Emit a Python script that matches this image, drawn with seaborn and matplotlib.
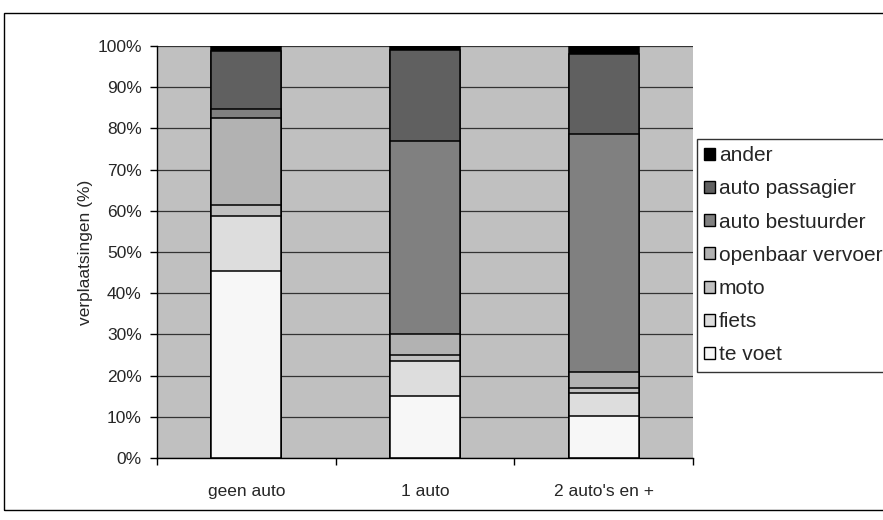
import matplotlib
matplotlib.use("Agg")
import matplotlib.pyplot as plt
import seaborn as sns
import pandas as pd
import numpy as np
from matplotlib.patches import Rectangle, Patch
from matplotlib.ticker import FixedLocator, PercentFormatter

categories = ["geen auto", "1 auto", "2 auto's en +"]
modes = ["te voet", "fiets", "moto", "openbaar vervoer", "auto bestuurder", "auto passagier", "ander"]
te_voet = [45.5, 15.0, 10.3]
fiets = [13.3, 8.5, 5.4]
moto = [2.5, 1.5, 1.4]
openbaar_vervoer = [21.3, 5.0, 3.7]
auto_bestuurder = [2.1, 47.0, 57.8]
auto_passagier = [14.1, 22.0, 19.4]
ander = [1.2, 1.0, 2.0]
colors = ["#f7f7f7", "#dddddd", "#c0c0c0", "#b2b2b2", "#808080", "#606060", "#000000"]

series = [te_voet, fiets, moto, openbaar_vervoer, auto_bestuurder, auto_passagier, ander]
cum = np.cumsum(np.array(series), axis=0)
rows = []
for m, vals in zip(modes, cum):
    for c, v in zip(categories, vals):
        rows.append({"categorie": c, "modus": m, "cum": v})
df = pd.DataFrame(rows)

sns.set_style("white")
plt.rcParams["font.family"] = ["Liberation Sans", "DejaVu Sans"]
fs = 12.5

fig = plt.figure(figsize=(8.83, 5.2), dpi=100)
fig.patches.append(Rectangle((4 / 883, 10 / 520), 1.2, 497 / 520, transform=fig.transFigure,
                             fill=False, edgecolor="black", linewidth=1.0, zorder=0))
ax = fig.add_axes([157 / 883, 62 / 520, 536 / 883, 412 / 520])
ax.set_facecolor("#c0c0c0")

for i in range(len(modes) - 1, -1, -1):
    sub = df[df["modus"] == modes[i]]
    sns.barplot(data=sub, x="categorie", y="cum", order=categories, color=colors[i],
                saturation=1, width=0.39, edgecolor="black", linewidth=1.1, ax=ax, zorder=3)

ax.set_xlim(-0.5, 2.5)
ax.set_ylim(0, 100)
ax.yaxis.set_major_locator(FixedLocator(np.arange(0, 101, 10)))
ax.yaxis.set_major_formatter(PercentFormatter(decimals=0))
ax.grid(axis="y", color="#333333", linewidth=0.9, zorder=1)
ax.set_axisbelow(True)
for s in ["top", "right"]:
    ax.spines[s].set_visible(False)
for s in ["left", "bottom"]:
    ax.spines[s].set_color("black")
    ax.spines[s].set_linewidth(1.0)
    ax.spines[s].set_zorder(5)

ax.set_xticks(range(len(categories)))
ax.set_xticklabels(categories, fontsize=fs)
ax.xaxis.set_minor_locator(FixedLocator([-0.5, 0.5, 1.5, 2.5]))
ax.tick_params(axis="x", which="major", length=0, pad=19)
ax.tick_params(axis="x", which="minor", length=5, width=1, color="black", direction="out", bottom=True)
ax.tick_params(axis="y", which="major", length=5, width=1, color="black", direction="out", left=True,
               labelsize=fs, pad=6)
ax.set_xlabel("")
ax.set_ylabel("verplaatsingen (%)", fontsize=fs, labelpad=3)

leg_handles = [Patch(facecolor=colors[i], edgecolor="black", linewidth=1.0, label=modes[i])
               for i in range(len(modes) - 1, -1, -1)]
leg = fig.legend(handles=leg_handles, loc="upper left", bbox_to_anchor=(697 / 883, 381 / 520),
                 frameon=True, fontsize=15, handlelength=0.5, handleheight=0.5, handletextpad=0.2,
                 labelspacing=0.68, borderpad=0.35, fancybox=False, borderaxespad=0)
leg.get_frame().set_edgecolor("black")
leg.get_frame().set_linewidth(1.0)

fig.savefig("out.png", dpi=100)
